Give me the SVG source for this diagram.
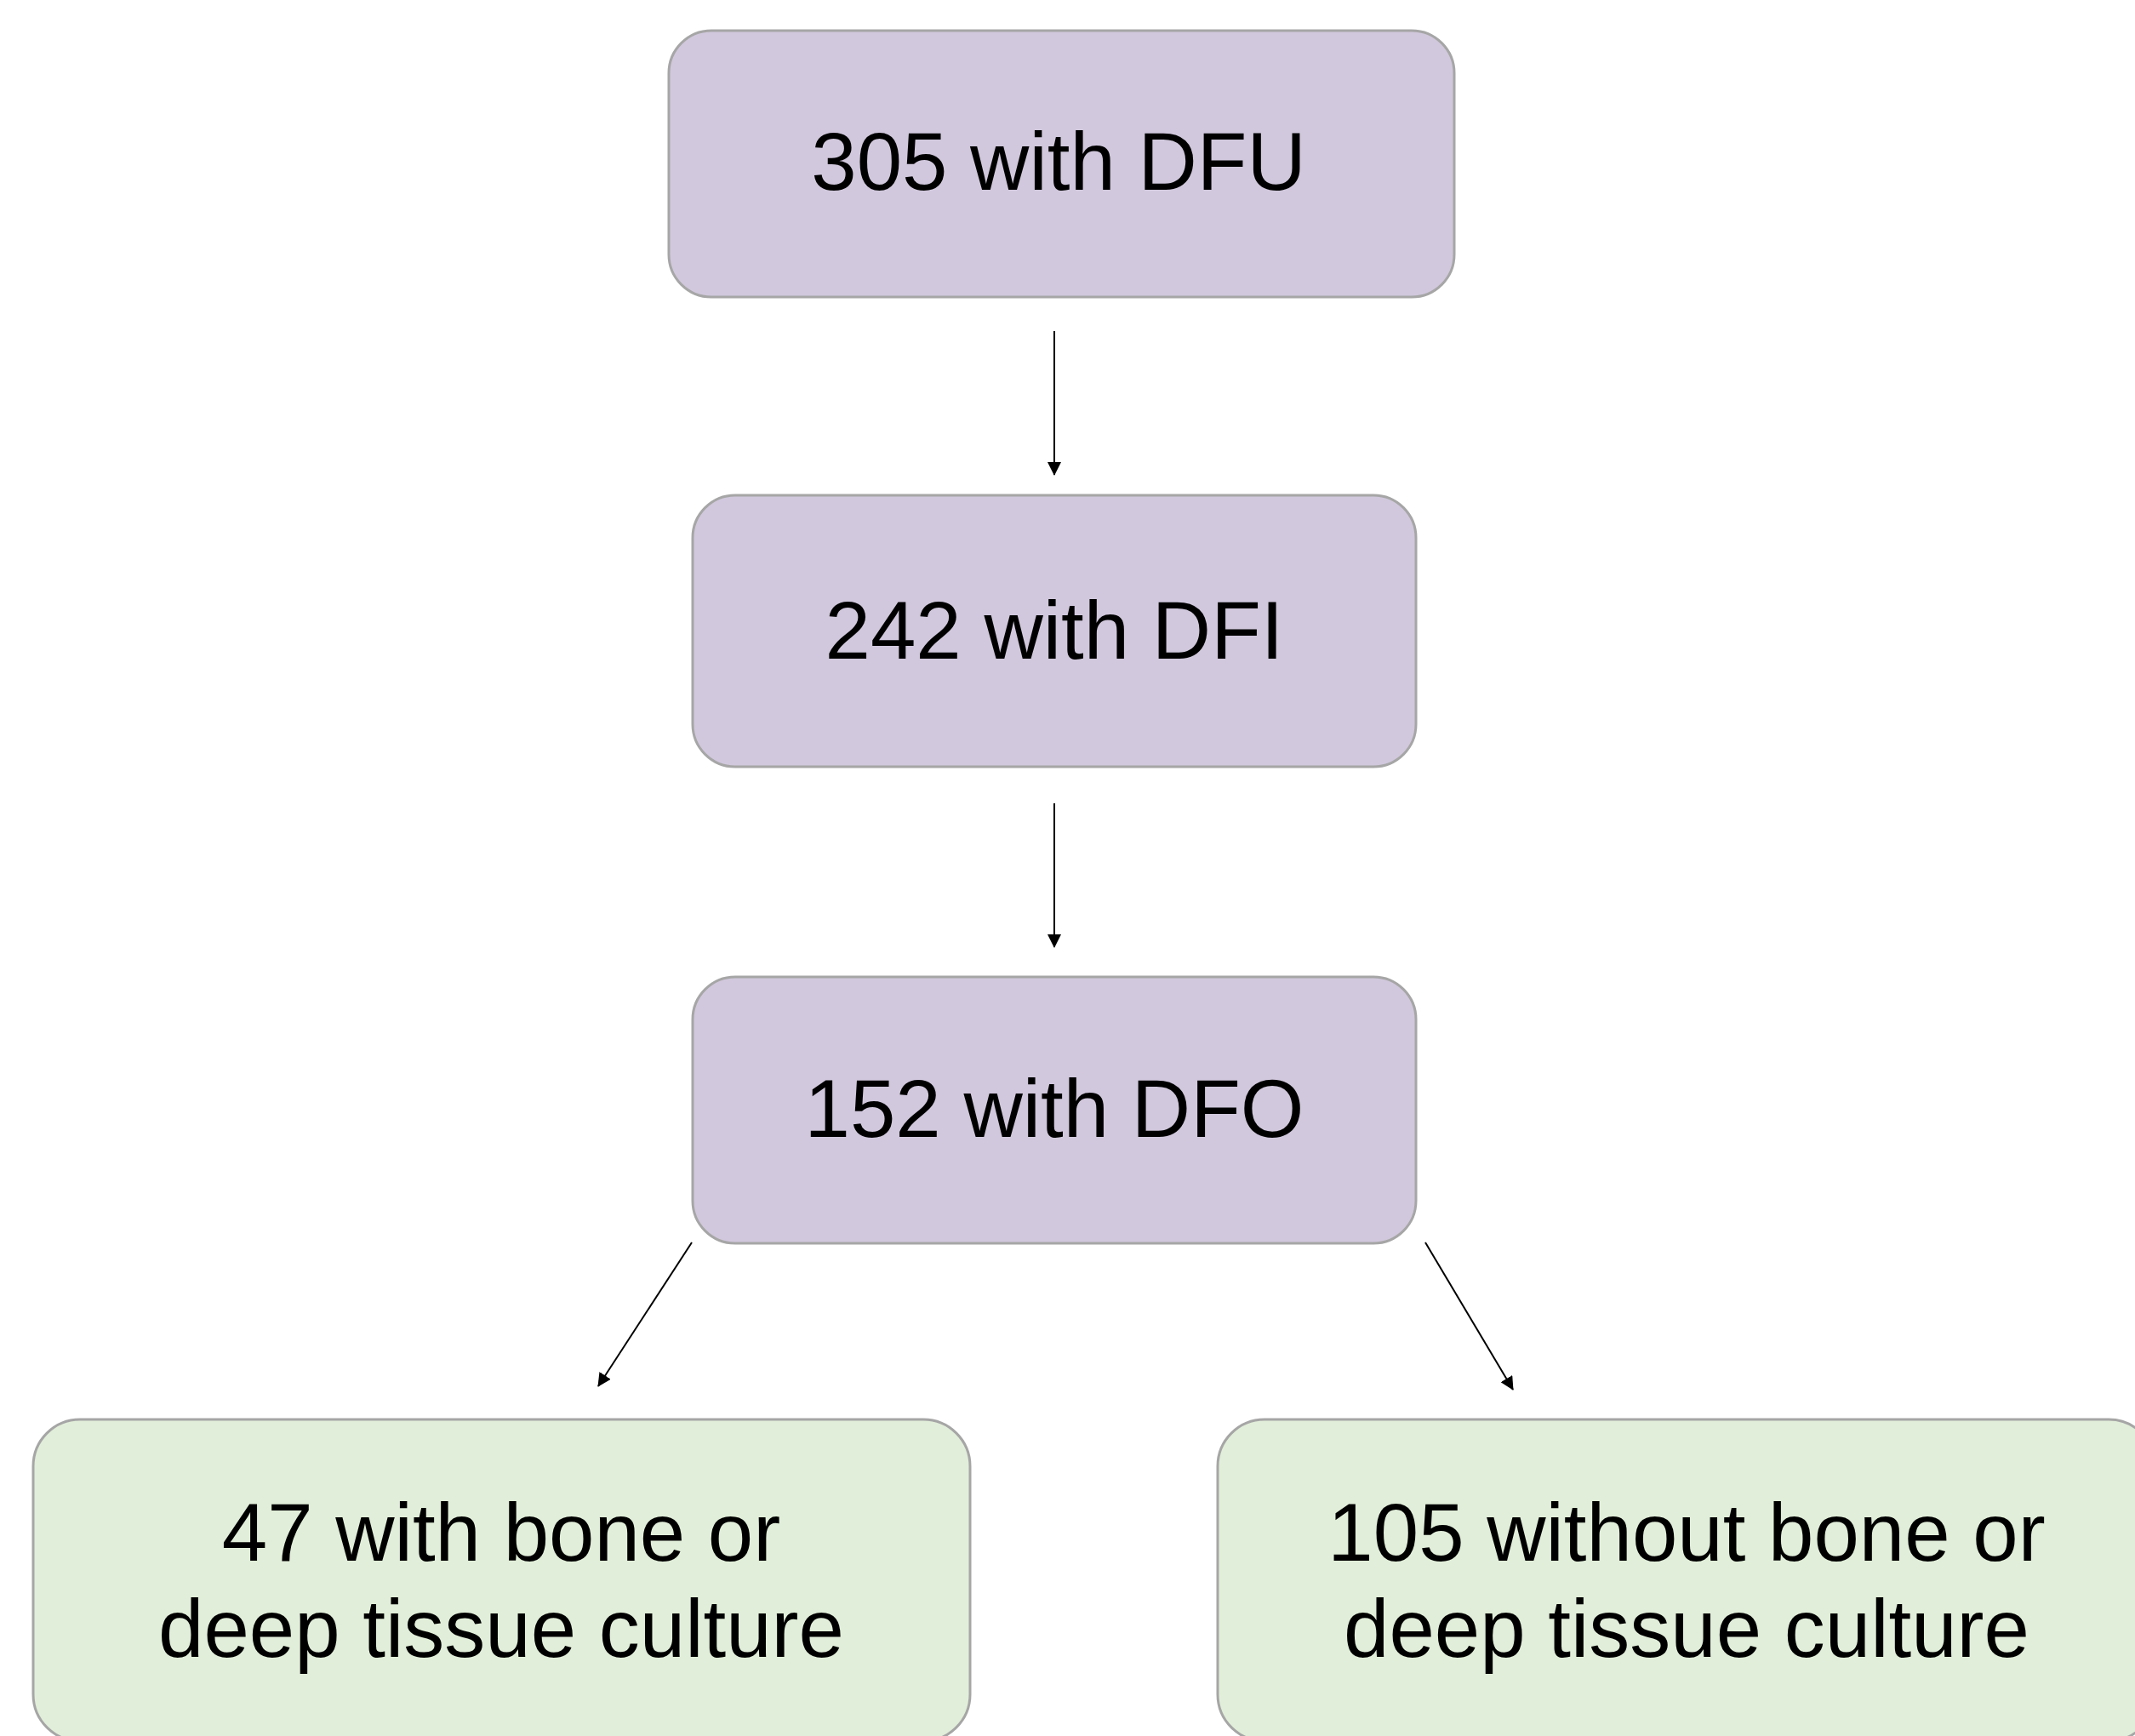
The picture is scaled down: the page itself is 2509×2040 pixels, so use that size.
<svg xmlns="http://www.w3.org/2000/svg" width="2509" height="2040" viewBox="0 0 2509 2040">
<style>
.box{stroke:#a6a6a6;stroke-width:3}
.p{fill:#d1c8dd}
.g{fill:#e1eed9}
.t{font-family:"Liberation Sans",Arial,Helvetica,sans-serif;font-size:96px;fill:#000;text-anchor:middle}
.c{stroke:#000;stroke-width:2;fill:none;marker-end:url(#ah)}
</style>
<defs>
<marker id="ah" markerUnits="userSpaceOnUse" markerWidth="16" markerHeight="16" viewBox="0 0 16 16" refX="15" refY="8" orient="auto">
<path d="M0,0 L16,8 L0,16 Z" fill="#000"/>
</marker>
</defs>
<rect width="2509" height="2040" fill="#fff"/>
<g id="connectors">
<line class="c" x1="1239" y1="389" x2="1239" y2="558"/>
<line class="c" x1="1239" y1="944" x2="1239" y2="1113"/>
<line class="c" x1="813" y1="1460" x2="703" y2="1629"/>
<line class="c" x1="1675" y1="1460" x2="1778" y2="1633"/>
</g>
<g id="n1">
<rect class="box p" x="786" y="36" width="923" height="313" rx="50" ry="50"/>
<text class="t" x="1244" y="223">305 with DFU</text>
</g>
<g id="n2">
<rect class="box p" x="814" y="582" width="850" height="319" rx="50" ry="50"/>
<text class="t" x="1239" y="774">242 with DFI</text>
</g>
<g id="n3">
<rect class="box p" x="814" y="1148" width="850" height="313" rx="50" ry="50"/>
<text class="t" x="1239" y="1336">152 with DFO</text>
</g>
<g id="n4">
<rect class="box g" x="39" y="1668" width="1101" height="378" rx="55" ry="55"/>
<text class="t" x="589" y="1834">47 with bone or</text>
<text class="t" x="589" y="1947">deep tissue culture</text>
</g>
<g id="n5">
<rect class="box g" x="1431" y="1668" width="1102" height="378" rx="55" ry="55"/>
<text class="t" x="1982" y="1834">105 without bone or</text>
<text class="t" x="1982" y="1947">deep tissue culture</text>
</g>
</svg>
